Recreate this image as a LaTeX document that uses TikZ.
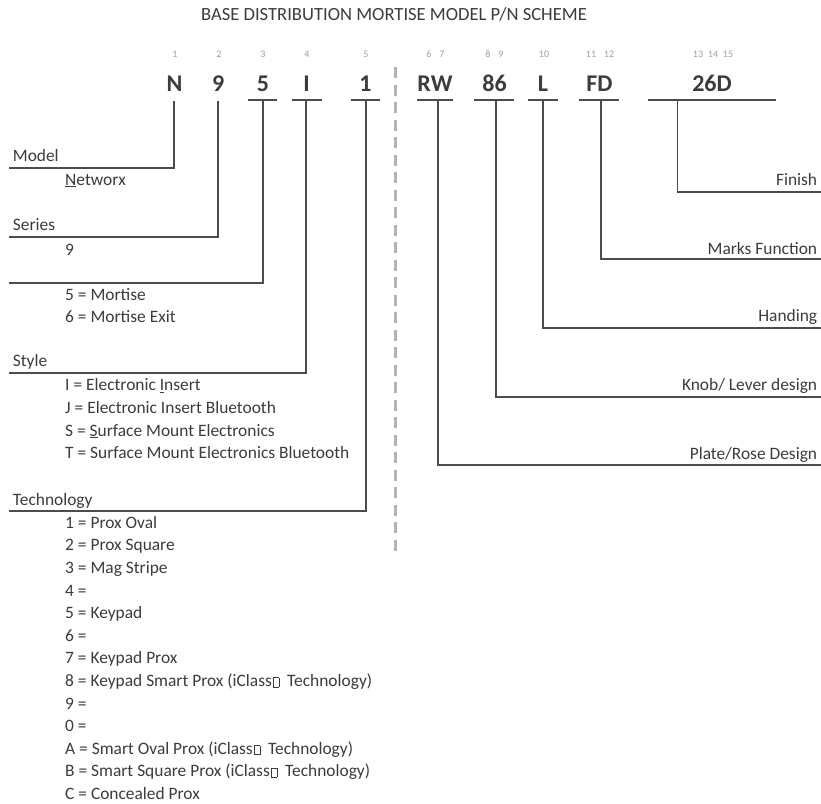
\documentclass[tikz,border=0pt]{standalone}
\usepackage{fontspec}
\setmainfont{Carlito}
\definecolor{txt}{HTML}{3C3C3C}
\definecolor{ln}{HTML}{4C4C4C}
\definecolor{num}{HTML}{A0A0A0}
\definecolor{sepc}{HTML}{B4B4B4}
\newcommand\tofu{\kern0.8pt{\fboxsep=0pt\fboxrule=0.6pt\fbox{\rule{0pt}{8.5pt}\hspace{5.5pt}}}}
\tikzset{
 lbl/.style={anchor=base west, inner sep=0pt, text=txt, font=\fontsize{17.4}{20}\selectfont},
 rlbl/.style={anchor=base east, inner sep=0pt, text=txt, font=\fontsize{17.4}{20}\selectfont},
 big/.style={anchor=base, inner sep=0pt, text=txt, font=\fontsize{24}{28}\selectfont\bfseries},
 posn/.style={anchor=base, inner sep=0pt, text=num, font=\fontsize{10}{12}\selectfont},
 ttl/.style={anchor=base, inner sep=0pt, text=txt, font=\fontsize{18.6}{22}\selectfont},
 conn/.style={draw=ln, line width=1.7pt, line join=miter},
 bar/.style={draw=ln, line width=1.7pt},
 sepline/.style={draw=sepc, line width=2.6pt, dash pattern=on 11pt off 6.5pt},
}
\begin{document}
\begin{tikzpicture}[x=1pt,y=-1pt]
\useasboundingbox[fill=white] (0,0) rectangle (821,803);

% title
\node[ttl] (title) at (394,20.7) {BASE DISTRIBUTION MORTISE MODEL P/N SCHEME};

% position numbers
\node[posn] (p1) at (175,57.7) {1};
\node[posn] (p2) at (219,57.7) {2};
\node[posn] (p3) at (263,57.7) {3};
\node[posn] (p4) at (307,57.7) {4};
\node[posn] (p5) at (366,57.7) {5};
\node[posn] (p6) at (429,57.7) {6};
\node[posn] (p7) at (442,57.7) {7};
\node[posn] (p8) at (488,57.7) {8};
\node[posn] (p9) at (501,57.7) {9};
\node[posn] (p10) at (544,57.7) {10};
\node[posn] (p11) at (591,57.7) {11};
\node[posn] (p12) at (609,57.7) {12};
\node[posn] (p13) at (698,57.7) {13};
\node[posn] (p14) at (713,57.7) {14};
\node[posn] (p15) at (728,57.7) {15};

% big code letters
\node[big] (cN) at (174.5,91) {N};
\node[big] (c9) at (218.3,91) {9};
\node[big] (c5) at (263,91) {5};
\node[big] (cI) at (306.5,91) {I};
\node[big] (c1) at (365.5,91) {1};
\node[big] (cRW) at (435,91) {RW};
\node[big] (c86) at (494.5,91) {86};
\node[big] (cL) at (543,91) {L};
\node[big] (cFD) at (599.5,91) {FD};
\node[big] (c26D) at (712,91) {26D};

% underline bars
\coordinate (u5a) at (248,100.3); \coordinate (u5b) at (277,100.3);
\coordinate (uIa) at (292,100.3); \coordinate (uIb) at (322,100.3);
\coordinate (u1a) at (351,100.3); \coordinate (u1b) at (380,100.3);
\coordinate (uRWa) at (417,100.3); \coordinate (uRWb) at (453,100.3);
\coordinate (u86a) at (474,100.3); \coordinate (u86b) at (514,100.3);
\coordinate (uLa) at (528,100.3); \coordinate (uLb) at (558,100.3);
\coordinate (uFDa) at (579,100.3); \coordinate (uFDb) at (619,100.3);
\coordinate (u26a) at (648,100.3); \coordinate (u26b) at (776,100.3);
\foreach \a/\b in {u5a/u5b,uIa/uIb,u1a/u1b,uRWa/uRWb,u86a/u86b,uLa/uLb,uFDa/uFDb,u26a/u26b}
  \draw[bar] (\a) -- (\b);

% separator
\coordinate (sTop) at (395.5,67);
\coordinate (sBot) at (395.5,557);
\draw[sepline] (sTop) -- (sBot);

% connector start points
\coordinate (tN) at (174,100.5);
\coordinate (t9) at (218.3,100.5);
\coordinate (t5) at (263,100.3);
\coordinate (tI) at (306.3,100.3);
\coordinate (t1) at (366,100.3);
\coordinate (tRW) at (437.7,100.3);
\coordinate (t86) at (496,100.3);
\coordinate (tL) at (543,100.3);
\coordinate (tFD) at (601,100.3);
\coordinate (t26) at (677.5,100.3);

% connector end points
\coordinate (eN) at (9,168.3);
\coordinate (e9) at (9,237.3);
\coordinate (e5) at (9,283);
\coordinate (eI) at (9,373.3);
\coordinate (e1) at (9,511);
\coordinate (e26) at (821,191.7);
\coordinate (eFD) at (821,259.3);
\coordinate (eL) at (821,328.3);
\coordinate (e86) at (821,396.7);
\coordinate (eRW) at (821,465);

\draw[conn] (tN) |- (eN);
\draw[conn] (t9) |- (e9);
\draw[conn] (t5) |- (e5);
\draw[conn] (tI) |- (eI);
\draw[conn] (t1) |- (e1);
\draw[conn] (t26) |- (e26);
\draw[conn] (tFD) |- (eFD);
\draw[conn] (tL) |- (eL);
\draw[conn] (t86) |- (e86);
\draw[conn] (tRW) |- (eRW);

% left labels
\node[lbl] (lModel) at (12.7,161.7) {Model};
\node[lbl] (vNetworx) at (65,185) {\underline{N}etworx};
\node[lbl] (lSeries) at (12.7,230.7) {Series};
\node[lbl] (v9) at (65,255) {9};
\node[lbl] (v5) at (65,300) {5 = Mortise};
\node[lbl] (v6) at (65,322.7) {6 = Mortise Exit};
\node[lbl] (lStyle) at (12.7,366.7) {Style};
\node[lbl] (sI) at (65,390.7) {I = Electronic \underline{I}nsert};
\node[lbl] (sJ) at (65,413.3) {J = Electronic Insert Bluetooth};
\node[lbl] (sS) at (65,436) {S = \underline{S}urface Mount Electronics};
\node[lbl] (sT) at (65,458.7) {T = Surface Mount Electronics Bluetooth};
\node[lbl] (lTech) at (12.7,505.5) {Technology};
\node[lbl] (t01) at (65,528.3) {1 = Prox Oval};
\node[lbl] (t02) at (65,550.9) {2 = Prox Square};
\node[lbl] (t03) at (65,573.5) {3 = Mag Stripe};
\node[lbl] (t04) at (65,596.1) {4 =};
\node[lbl] (t05) at (65,618.7) {5 = Keypad};
\node[lbl] (t06) at (65,641.3) {6 =};
\node[lbl] (t07) at (65,663.9) {7 = Keypad Prox};
\node[lbl] (t08) at (65,686.5) {8 = Keypad Smart Prox (iClass\tofu\ \ Technology)};
\node[lbl] (t09) at (65,709.1) {9 =};
\node[lbl] (t00) at (65,731.7) {0 =};
\node[lbl] (t0A) at (65,754.3) {A = Smart Oval Prox (iClass\tofu\ \ Technology)};
\node[lbl] (t0B) at (65,776.9) {B = Smart Square Prox (iClass\tofu\ \ Technology)};
\node[lbl] (t0C) at (65,799.5) {C = Concealed Prox};

% right labels
\node[rlbl] (rFinish) at (817.3,185) {Finish};
\node[rlbl] (rMarks) at (817.3,254) {Marks Function};
\node[rlbl] (rHand) at (817.3,321.7) {Handing};
\node[rlbl] (rKnob) at (817.3,390.7) {Knob/ Lever design};
\node[rlbl] (rPlate) at (817.3,459.3) {Plate/Rose Design};
\end{tikzpicture}
\end{document}
